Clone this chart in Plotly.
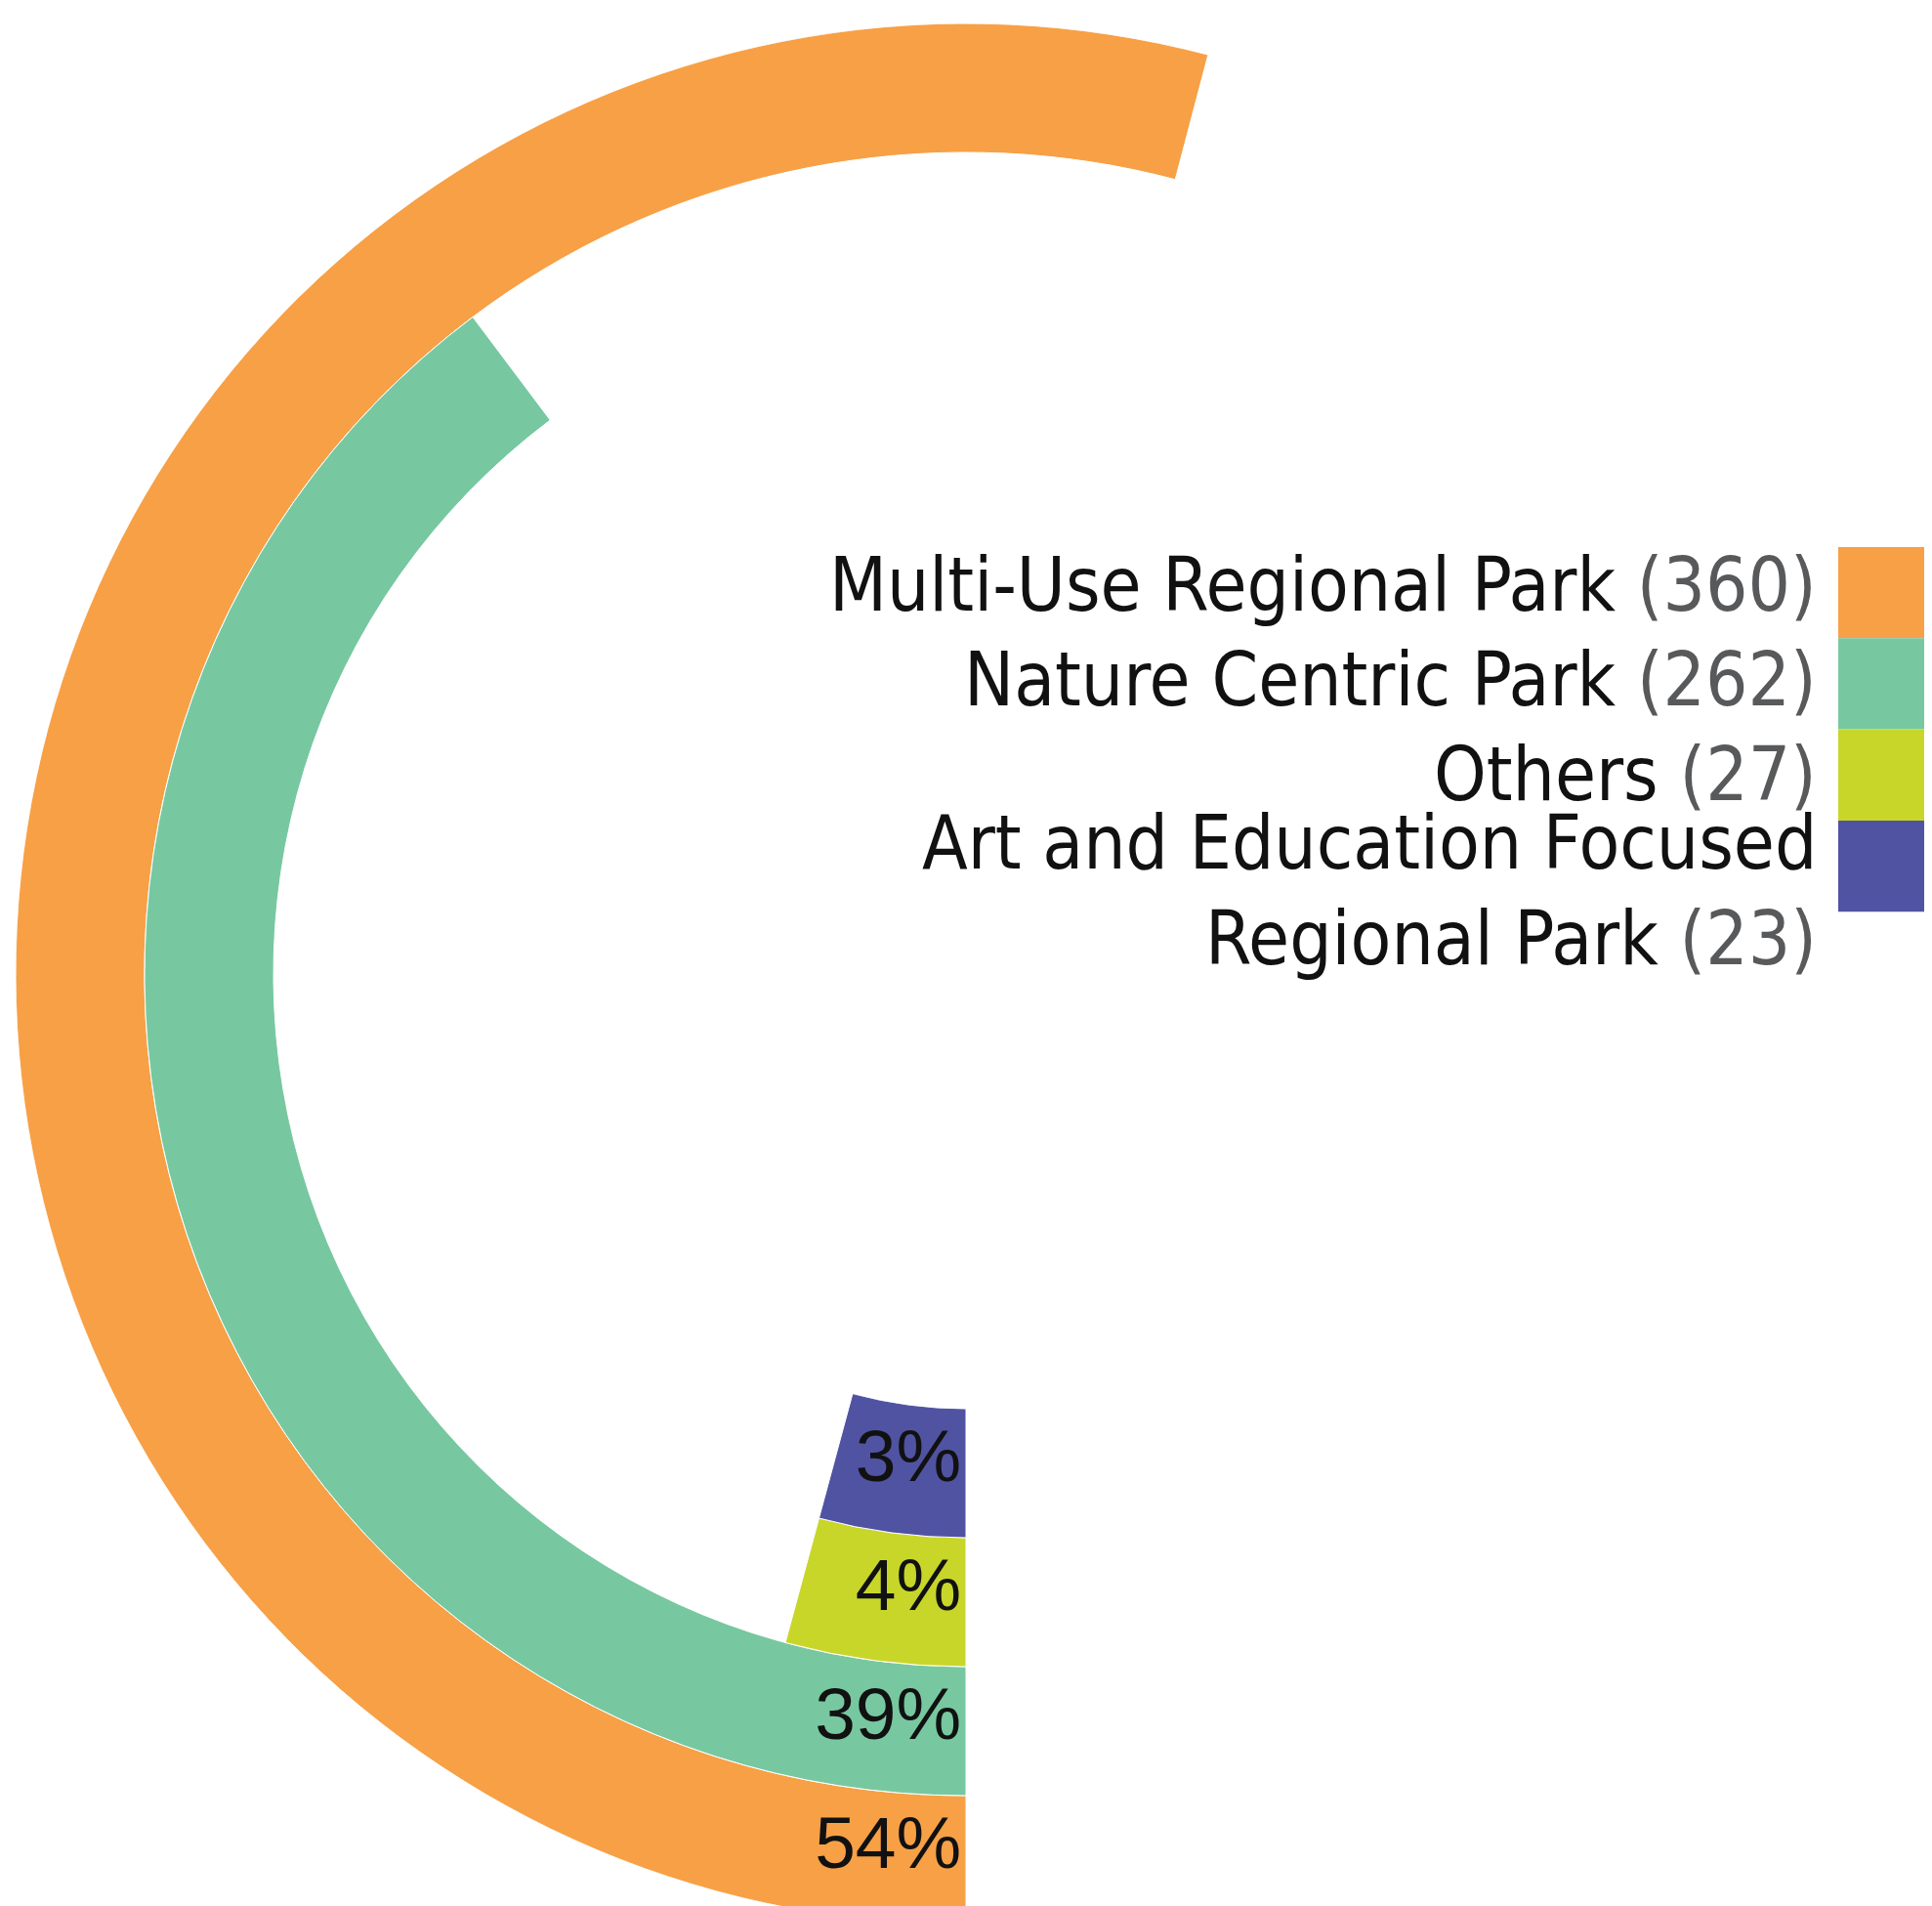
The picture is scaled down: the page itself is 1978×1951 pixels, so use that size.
import plotly.graph_objects as go

# ---- data -------------------------------------------------------------
categories = ["Multi-Use Regional Park", "Nature Centric Park", "Others",
              "Art and Education Focused<br>Regional Park"]
counts = [360, 262, 27, 23]
# angular length of each bar, in percent of a full turn
arc_share = [54.1, 39.75, 4.2, 4.2]
colors = ["#F7A046", "#77C8A0", "#C8D62A", "#5053A2"]
ring = [3, 2, 1, 0]          # radial slot, 0 = innermost

total = sum(counts)
pct_labels = [f"{round(c / total * 100)}%" for c in counts]

W, H = 1978, 1990
OFF = 8                       # page body margin, figure starts at (8, 8)

def px_x(x):                  # page pixel -> paper x
    return (x - OFF) / W

def px_y(y):                  # page pixel -> paper y
    return 1 - (y - OFF) / H

fig = go.Figure()

for cat, share, col, rg in zip(categories, arc_share, colors, ring):
    span = share * 3.6
    fig.add_trace(go.Barpolar(
        r=[1], base=[rg], theta=[span / 2], width=[span],
        marker=dict(color=col, line=dict(color="white", width=1)),
        name=cat.replace("<br>", " "), showlegend=False, hoverinfo="name",
    ))

fig.add_trace(go.Scatterpolar(
    r=[rg + 0.42 for rg in ring], theta=[0] * len(ring),
    mode="markers+text", text=pct_labels, textposition="middle left",
    marker=dict(size=6, color="rgba(0,0,0,0)"),
    textfont=dict(family="Liberation Sans, Arial, sans-serif", size=75, color="#111111"),
    showlegend=False, hoverinfo="skip",
))

# polar geometry (page pixels)
cx, cy, R = 989, 997, 973
fig.update_layout(
    width=W, height=H,
    margin=dict(l=0, r=0, t=0, b=0),
    paper_bgcolor="white", plot_bgcolor="white",
    polar=dict(
        domain=dict(x=[px_x(cx - R), px_x(cx + R)],
                    y=[px_y(cy + R), px_y(cy - R)]),
        hole=445 / 973,
        bgcolor="white",
        radialaxis=dict(range=[0, 4], visible=False, showgrid=False),
        angularaxis=dict(rotation=-90, direction="clockwise", visible=False,
                         showgrid=False, showline=False, showticklabels=False),
    ),
)

# ---- custom legend ------------------------------------------------------
legend_font = "Liberation Sans Narrow, DejaVu Sans Condensed, Arial Narrow, sans-serif"
text_right = 1862
line_centers = [599, 695, 792, 863, 960]   # centre of each text line (page px)
sq_x0, sq_x1, sq_y0, sq_h = 1882, 1986, 560, 93.3

line_idx = 0
for i, (cat, cnt, col) in enumerate(zip(categories, counts, colors)):
    fig.add_shape(type="rect", xref="paper", yref="paper",
                  x0=px_x(sq_x0), x1=px_x(sq_x1),
                  y0=px_y(sq_y0 + sq_h * (i + 1)), y1=px_y(sq_y0 + sq_h * i),
                  fillcolor=col, line=dict(width=0))
    parts = cat.split("<br>")
    for j, part in enumerate(parts):
        txt = part
        if j == len(parts) - 1:
            txt += f" <span style='color:#58595B'>({cnt})</span>"
        fig.add_annotation(xref="paper", yref="paper",
                           x=px_x(text_right), y=px_y(line_centers[line_idx]),
                           xanchor="right", yanchor="middle", showarrow=False,
                           text=txt, font=dict(family=legend_font, size=76, color="#111111"))
        line_idx += 1

fig.write_html("out.html")
